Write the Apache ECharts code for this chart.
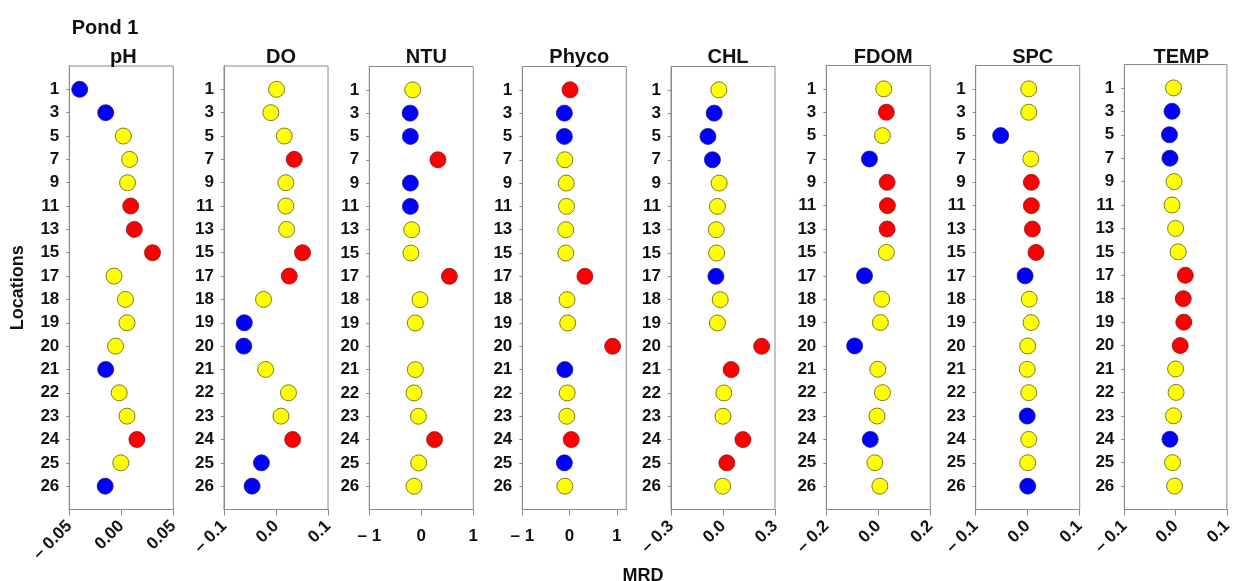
<!DOCTYPE html>
<html>
<head>
<meta charset="utf-8">
<script src="https://cdn.jsdelivr.net/npm/echarts@6/dist/echarts.min.js"></script>
<style>
html,body{margin:0;padding:0;background:#fff;}
#chart{width:1235px;height:581px;}
</style>
</head>
<body>
<div id="chart"></div>
<script>
// ---------- data ----------
const locations = ['1','3','5','7','9','11','13','15','17','18','19','20','21','22','23','24','25','26'];
const panelNames = ['pH','DO','NTU','Phyco','CHL','FDOM','SPC','TEMP'];

const phValues    = [-0.040,-0.015,0.002,0.008,0.006,0.009,0.0125,0.030,-0.007,0.004,0.0055,-0.0055,-0.015,-0.002,0.0055,0.015,-0.0005,-0.0155];
const doValues    = [0.001,-0.010,0.016,0.035,0.019,0.019,0.0205,0.051,0.0255,-0.024,-0.061,-0.062,-0.020,0.024,0.0095,0.032,-0.028,-0.046];
const ntuValues   = [-0.165,-0.215,-0.21,0.32,-0.21,-0.21,-0.185,-0.2,0.54,-0.025,-0.115,null,-0.115,-0.14,-0.055,0.255,-0.05,-0.14];
const phycoValues = [0.01,-0.11,-0.11,-0.10,-0.07,-0.065,-0.08,-0.08,0.325,-0.055,-0.04,0.91,-0.10,-0.05,-0.06,0.035,-0.11,-0.10];
const chlValues   = [-0.024,-0.051,-0.087,-0.061,-0.022,-0.032,-0.039,-0.037,-0.041,-0.016,-0.032,0.223,0.047,0.005,0.0,0.115,0.022,-0.002];
const fdomValues  = [0.021,0.031,0.016,-0.034,0.034,0.035,0.034,0.031,-0.053,0.013,0.008,-0.091,-0.002,0.016,-0.005,-0.031,-0.013,0.006];
const spcValues   = [0.002,0.002,-0.052,0.006,0.007,0.007,0.009,0.016,-0.005,0.003,0.0065,0.0,-0.001,0.002,-0.001,0.002,0.0,0.0];
const tempValues  = [-0.004,-0.007,-0.012,-0.011,-0.003,-0.007,0.0,0.005,0.019,0.015,0.016,0.009,0.0,0.001,-0.004,-0.011,-0.006,-0.002];

// class per location: B = low (blue), Y = middle (yellow), R = high (red)
const phClass    = 'BBYYYRRRYYYYBYYRYB';
const doClass    = 'YYYRYYYRRYBBYYYRBB';
const ntuClass   = 'YBBRBBYYRYY-YYYRYY';
const phycoClass = 'RBBYYYYYRYYRBYYRBY';
const chlClass   = 'YBBBYYYYBYYRRYYRRY';
const fdomClass  = 'YRYBRRRYBYYBYYYBYY';
const spcClass   = 'YYBYRRRRBYYYYYBYYB';
const tempClass  = 'YBBBYYYYRRRRYYYBYY';

const phTicks    = [-0.05, 0, 0.05], phTickLabels    = ['\u2013 0.05','0.00','0.05'];
const doTicks    = [-0.1, 0, 0.1],   doTickLabels    = ['\u2013 0.1','0.0','0.1'];
const ntuTicks   = [-1, 0, 1],       ntuTickLabels   = ['\u2013 1','0','1'];
const phycoTicks = [-1, 0, 1],       phycoTickLabels = ['\u2013 1','0','1'];
const chlTicks   = [-0.3, 0, 0.3],   chlTickLabels   = ['\u2013 0.3','0.0','0.3'];
const fdomTicks  = [-0.2, 0, 0.2],   fdomTickLabels  = ['\u2013 0.2','0.0','0.2'];
const spcTicks   = [-0.1, 0, 0.1],   spcTickLabels   = ['\u2013 0.1','0.0','0.1'];
const tempTicks  = [-0.1, 0, 0.1],   tempTickLabels  = ['\u2013 0.1','0.0','0.1'];

const xRanges = [[-0.05,0.05],[-0.1,0.1],[-1,1],[-1,1.2],[-0.3,0.3],[-0.2,0.2],[-0.1,0.1],[-0.1,0.1]];

// ---------- layout / style ----------
const panels = [
  {values: phValues,    cls: phClass,    ticks: phTicks,    labels: phTickLabels,    rot: 45},
  {values: doValues,    cls: doClass,    ticks: doTicks,    labels: doTickLabels,    rot: 45},
  {values: ntuValues,   cls: ntuClass,   ticks: ntuTicks,   labels: ntuTickLabels,   rot: 0},
  {values: phycoValues, cls: phycoClass, ticks: phycoTicks, labels: phycoTickLabels, rot: 0},
  {values: chlValues,   cls: chlClass,   ticks: chlTicks,   labels: chlTickLabels,   rot: 45},
  {values: fdomValues,  cls: fdomClass,  ticks: fdomTicks,  labels: fdomTickLabels,  rot: 45},
  {values: spcValues,   cls: spcClass,   ticks: spcTicks,   labels: spcTickLabels,   rot: 45},
  {values: tempValues,  cls: tempClass,  ticks: tempTicks,  labels: tempTickLabels,  rot: 45}
];
const lefts = [69.3, 224, 369.3, 522.3, 671, 826.3, 975.7, 1124.3];
const tops  = [66, 66, 66.5, 66.5, 66.5, 65.5, 65.5, 64.5];
const boxW = 104;
const boxBottom = 509.5;
const FONT = 'Arial, "Liberation Sans", sans-serif';
const colorMap = {B: '#0000ff', Y: '#ffff00', R: '#ff0000'};
const borderMap = {B: '#1a1a80', Y: '#5a5a20', R: '#801a1a'};
const frame = '#8a8a8a';

const grids = [], xAxes = [], yAxes = [], series = [], titles = [];
const rowIdx = locations.map((_, i) => i);

panels.forEach((p, k) => {
  grids.push({
    left: lefts[k], top: tops[k], width: boxW, height: boxBottom - tops[k],
    show: true, borderColor: frame, borderWidth: 1, backgroundColor: 'transparent'
  });
  xAxes.push({
    type: 'value', gridIndex: k, min: xRanges[k][0], max: xRanges[k][1],
    splitLine: {show: false},
    axisLine: {show: true, onZero: false, lineStyle: {color: frame, width: 1}},
    axisTick: {show: true, length: 6, lineStyle: {color: frame}, customValues: p.ticks},
    axisLabel: {
      customValues: p.ticks, rotate: p.rot, margin: p.rot ? 14 : 18,
      fontFamily: FONT, fontWeight: 'bold', fontSize: 17, color: '#111',
      formatter: function (v) {
        let best = 0;
        p.ticks.forEach((t, i) => { if (Math.abs(t - v) < Math.abs(p.ticks[best] - v)) best = i; });
        return p.labels[best];
      }
    }
  });
  yAxes.push({
    type: 'value', gridIndex: k, inverse: true, min: -1, max: locations.length,
    splitLine: {show: false},
    axisLine: {show: true, onZero: false, lineStyle: {color: frame, width: 1}},
    axisTick: {show: true, length: 3, lineStyle: {color: frame}, customValues: rowIdx},
    axisLabel: {
      customValues: rowIdx, margin: 10,
      fontFamily: FONT, fontWeight: 'bold', fontSize: 17, color: '#111',
      formatter: function (v) { return locations[Math.round(v)] || ''; }
    },
    name: k === 0 ? 'Locations' : '',
    nameLocation: 'middle', nameRotate: 90, nameGap: 42,
    nameTextStyle: {fontFamily: FONT, fontWeight: 'bold', fontSize: 18, color: '#111'}
  });
  const data = [];
  p.values.forEach((v, i) => {
    if (v === null || v === undefined) return;
    const c = p.cls[i];
    data.push({value: [v, i], itemStyle: {color: colorMap[c], borderColor: borderMap[c], borderWidth: 0.8, opacity: 1}});
  });
  series.push({
    type: 'scatter', xAxisIndex: k, yAxisIndex: k, symbol: 'circle', symbolSize: 16,
    itemStyle: {opacity: 1},
    data: data, z: 3
  });
  titles.push({
    text: panelNames[k], left: lefts[k] + boxW / 2 - (k === 0 ? 3 : 0), top: 52,
    textAlign: 'center', textVerticalAlign: 'middle',
    textStyle: {fontFamily: FONT, fontWeight: 'bold', fontSize: 20, color: '#111'}
  });
});

titles.push({
  text: 'Pond 1', left: 100, top: 23, textAlign: 'center', textVerticalAlign: 'middle',
  textStyle: {fontFamily: FONT, fontWeight: 'bold', fontSize: 20, color: '#111'}
});
titles.push({
  text: 'MRD', left: 638, top: 571, textAlign: 'center', textVerticalAlign: 'middle',
  textStyle: {fontFamily: FONT, fontWeight: 'bold', fontSize: 18, color: '#111'}
});

const chart = echarts.init(document.getElementById('chart'), null, {renderer: 'canvas'});
chart.setOption({
  backgroundColor: '#ffffff',
  animation: false,
  title: titles,
  grid: grids,
  xAxis: xAxes,
  yAxis: yAxes,
  series: series
});
</script>
</body>
</html>
